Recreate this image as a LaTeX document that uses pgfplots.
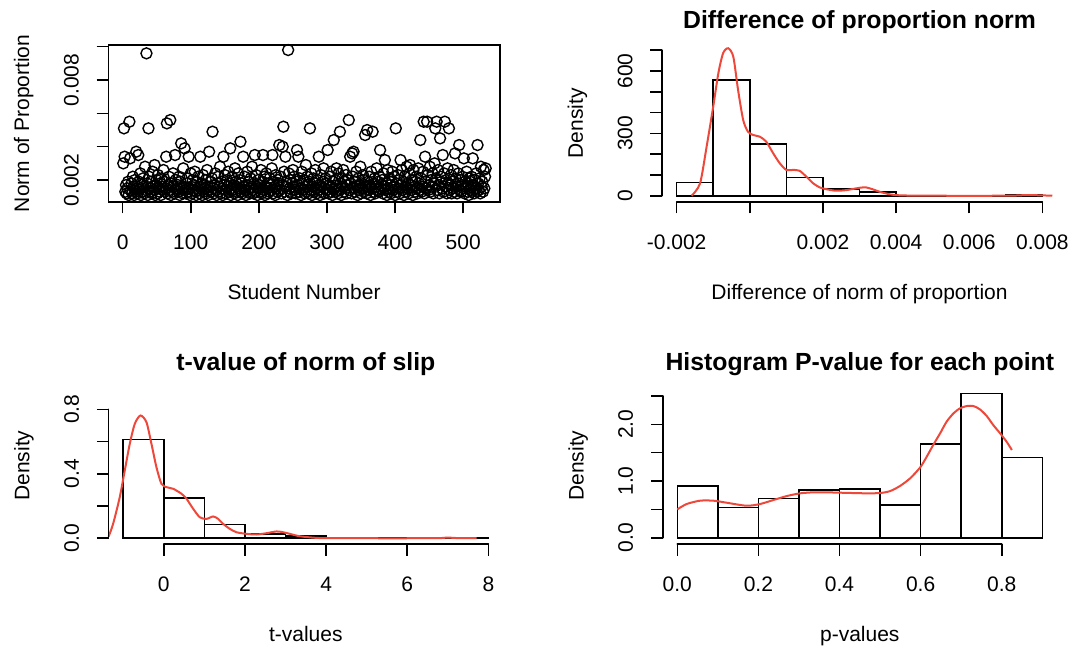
\documentclass[border=0pt]{standalone}
\usepackage{fontspec}
\setmainfont{Liberation Sans}
\usepackage{pgfplots}
\pgfplotsset{compat=1.18}
\definecolor{dens}{RGB}{238,72,58}

% R-like base style: 1 px of the reference = 0.5pt
\pgfplotsset{
  rbase/.style={
    scale only axis, height=78.35pt, anchor=south west, clip=false,
    scaled x ticks=false, scaled y ticks=false,
    xtick pos=bottom, ytick pos=left, tick align=outside, major tick length=5.85pt,
    tick style={black, line width=0.8pt},
    every tick label/.append style={inner sep=0pt, font=\fontsize{10.5}{12}\selectfont},
    xticklabel shift=10.3pt, yticklabel shift=8.7pt,
    xticklabel style={anchor=north},
    yticklabel style={rotate=90, anchor=south},
    every axis x label/.style={at={([yshift=-48.8pt]axis description cs:0.5,0)}, anchor=base, font=\fontsize{10.5}{12}\selectfont},
    every axis y label/.style={at={([xshift=-39.6pt]axis description cs:0,0.5)}, rotate=90, anchor=base, font=\fontsize{10.5}{12}\selectfont},
    every axis title/.style={at={([yshift=8.5pt]axis description cs:0.5,1)}, anchor=base, font=\bfseries\fontsize{12.4}{14}\selectfont},
  },
  rhist/.style={rbase, axis line style={draw=none}},
  histbar/.style={ybar interval, draw=black, fill=none, line width=0.8pt},
  denscurve/.style={dens, line width=1pt, smooth, tension=0.45, no marks},
}

\begin{document}
\begin{tikzpicture}
\path[use as bounding box] (0,0) rectangle (536pt,325pt);

% ---- scatter: norm of proportion per student
\begin{axis}[rbase, at={(54.15pt,224.15pt)}, width=195.85pt,
  axis line style={line width=0.8pt},
  xmin=-21, xmax=554, ymin=0.0007, ymax=0.0101,
  xtick={0,100,200,300,400,500}, xticklabels={0,100,200,300,400,500},
  ytick={0.002,0.004,0.006,0.008,0.010}, yticklabels={0.002,{},{},0.008,{}},
  xlabel={Student Number}, ylabel={Norm of Proportion}]
\addplot[only marks, mark=o, mark size=2.75pt, mark options={black, line width=0.7pt}] coordinates {
(1,0.0030)(2,0.0051)(3,0.0034)(4,0.0013)(5,0.0017)(6,0.0012)(7,0.0015)(8,0.0019)(9,0.0011)(10,0.0055)
(11,0.0033)(12,0.0014)(13,0.0018)(14,0.0012)(15,0.0022)(16,0.0016)(17,0.0011)(18,0.0020)(19,0.0013)(20,0.0037)
(21,0.0015)(22,0.0012)(23,0.0035)(24,0.0019)(25,0.0014)(26,0.0024)(27,0.0011)(28,0.0017)(29,0.0013)(30,0.0021)
(31,0.0016)(32,0.0012)(33,0.0028)(34,0.0014)(35,0.0096)(36,0.0018)(37,0.0011)(38,0.0051)(39,0.0022)(40,0.0015)
(41,0.0013)(42,0.0019)(43,0.0012)(44,0.0025)(45,0.0016)(46,0.0014)(47,0.0029)(48,0.0011)(49,0.0017)(50,0.0020)
(51,0.0012)(52,0.0023)(53,0.0015)(54,0.0013)(55,0.0018)(56,0.0011)(57,0.0021)(58,0.0016)(59,0.0014)(60,0.0026)
(61,0.0019)(62,0.0013)(63,0.0015)(64,0.0034)(65,0.0054)(66,0.0012)(67,0.0017)(68,0.0022)(69,0.0014)(70,0.0056)
(71,0.0011)(72,0.0018)(73,0.0013)(74,0.0024)(75,0.0016)(76,0.0012)(77,0.0035)(78,0.0020)(79,0.0014)(80,0.0015)
(81,0.0017)(82,0.0013)(83,0.0022)(84,0.0011)(85,0.0019)(86,0.0042)(87,0.0015)(88,0.0012)(89,0.0027)(90,0.0016)
(91,0.0039)(92,0.0014)(93,0.0012)(94,0.0018)(95,0.0021)(96,0.0013)(97,0.0034)(98,0.0015)(99,0.0011)(100,0.0024)
(101,0.0016)(102,0.0012)(103,0.0020)(104,0.0014)(105,0.0017)(106,0.0025)(107,0.0013)(108,0.0011)(109,0.0019)(110,0.0015)
(111,0.0022)(112,0.0014)(113,0.0012)(114,0.0034)(115,0.0016)(116,0.0018)(117,0.0011)(118,0.0023)(119,0.0013)(120,0.0017)
(121,0.0015)(122,0.0020)(123,0.0012)(124,0.0026)(125,0.0014)(126,0.0011)(127,0.0037)(128,0.0016)(129,0.0019)(130,0.0013)
(131,0.0021)(132,0.0049)(133,0.0015)(134,0.0012)(135,0.0017)(136,0.0024)(137,0.0014)(138,0.0011)(139,0.0018)(140,0.0022)
(141,0.0013)(142,0.0016)(143,0.0028)(144,0.0012)(145,0.0019)(146,0.0015)(147,0.0011)(148,0.0034)(149,0.0017)(150,0.0023)
(151,0.0014)(152,0.0012)(153,0.0020)(154,0.0016)(155,0.0025)(156,0.0013)(157,0.0018)(158,0.0039)(159,0.0011)(160,0.0015)
(161,0.0022)(162,0.0014)(163,0.0017)(164,0.0012)(165,0.0027)(166,0.0019)(167,0.0013)(168,0.0016)(169,0.0011)(170,0.0024)
(171,0.0015)(172,0.0020)(173,0.0043)(174,0.0013)(175,0.0018)(176,0.0012)(177,0.0034)(178,0.0016)(179,0.0022)(180,0.0014)
(181,0.0011)(182,0.0017)(183,0.0025)(184,0.0013)(185,0.0019)(186,0.0015)(187,0.0012)(188,0.0021)(189,0.0016)(190,0.0028)
(191,0.0014)(192,0.0012)(193,0.0018)(194,0.0035)(195,0.0013)(196,0.0023)(197,0.0016)(198,0.0011)(199,0.0020)(200,0.0015)
(201,0.0017)(202,0.0013)(203,0.0026)(204,0.0012)(205,0.0019)(206,0.0035)(207,0.0014)(208,0.0022)(209,0.0011)(210,0.0016)
(211,0.0024)(212,0.0015)(213,0.0012)(214,0.0018)(215,0.0013)(216,0.0021)(217,0.0017)(218,0.0014)(219,0.0027)(220,0.0035)
(221,0.0012)(222,0.0019)(223,0.0016)(224,0.0011)(225,0.0023)(226,0.0015)(227,0.0013)(228,0.0020)(229,0.0018)(230,0.0041)
(231,0.0014)(232,0.0022)(233,0.0012)(234,0.0017)(235,0.0040)(236,0.0052)(237,0.0025)(238,0.0013)(239,0.0034)(240,0.0016)
(241,0.0019)(242,0.0011)(243,0.0098)(244,0.0024)(245,0.0015)(246,0.0013)(247,0.0020)(248,0.0012)(249,0.0018)(250,0.0026)
(251,0.0016)(252,0.0022)(253,0.0014)(254,0.0012)(255,0.0019)(256,0.0038)(257,0.0017)(258,0.0034)(259,0.0013)(260,0.0021)
(261,0.0015)(262,0.0011)(263,0.0025)(264,0.0018)(265,0.0014)(266,0.0020)(267,0.0012)(268,0.0016)(269,0.0029)(270,0.0013)
(271,0.0022)(272,0.0017)(273,0.0012)(274,0.0019)(275,0.0051)(276,0.0014)(277,0.0024)(278,0.0011)(279,0.0016)(280,0.0021)
(281,0.0013)(282,0.0018)(283,0.0026)(284,0.0015)(285,0.0012)(286,0.0020)(287,0.0014)(288,0.0034)(289,0.0017)(290,0.0011)
(291,0.0023)(292,0.0016)(293,0.0013)(294,0.0019)(295,0.0027)(296,0.0012)(297,0.0015)(298,0.0021)(299,0.0018)(300,0.0014)
(301,0.0038)(302,0.0012)(303,0.0017)(304,0.0022)(305,0.0013)(306,0.0025)(307,0.0016)(308,0.0011)(309,0.0019)(310,0.0044)
(311,0.0015)(312,0.0020)(313,0.0013)(314,0.0027)(315,0.0017)(316,0.0012)(317,0.0024)(318,0.0014)(319,0.0049)(320,0.0018)
(321,0.0011)(322,0.0021)(323,0.0016)(324,0.0026)(325,0.0013)(326,0.0019)(327,0.0015)(328,0.0023)(329,0.0012)(330,0.0017)
(331,0.0020)(332,0.0056)(333,0.0014)(334,0.0034)(335,0.0018)(336,0.0012)(337,0.0036)(338,0.0022)(339,0.0037)(340,0.0015)
(341,0.0013)(342,0.0019)(343,0.0025)(344,0.0016)(345,0.0011)(346,0.0021)(347,0.0014)(348,0.0017)(349,0.0028)(350,0.0012)
(351,0.0018)(352,0.0015)(353,0.0023)(354,0.0013)(355,0.0020)(356,0.0047)(357,0.0016)(358,0.0012)(359,0.0050)(360,0.0019)
(361,0.0014)(362,0.0022)(363,0.0017)(364,0.0011)(365,0.0025)(366,0.0015)(367,0.0049)(368,0.0013)(369,0.0018)(370,0.0021)
(371,0.0012)(372,0.0016)(373,0.0027)(374,0.0014)(375,0.0019)(376,0.0013)(377,0.0022)(378,0.0038)(379,0.0015)(380,0.0017)
(381,0.0020)(382,0.0012)(383,0.0024)(384,0.0016)(385,0.0032)(386,0.0014)(387,0.0018)(388,0.0011)(389,0.0026)(390,0.0015)
(391,0.0013)(392,0.0021)(393,0.0017)(394,0.0012)(395,0.0019)(396,0.0025)(397,0.0014)(398,0.0016)(399,0.0022)(400,0.0011)
(401,0.0051)(402,0.0018)(403,0.0013)(404,0.0023)(405,0.0015)(406,0.0020)(407,0.0012)(408,0.0032)(409,0.0017)(410,0.0026)
(411,0.0014)(412,0.0019)(413,0.0011)(414,0.0022)(415,0.0016)(416,0.0013)(417,0.0028)(418,0.0015)(419,0.0018)(420,0.0012)
(421,0.0024)(422,0.0029)(423,0.0017)(424,0.0014)(425,0.0020)(426,0.0011)(427,0.0026)(428,0.0016)(429,0.0013)(430,0.0019)
(431,0.0022)(432,0.0015)(433,0.0012)(434,0.0027)(435,0.0018)(436,0.0014)(437,0.0044)(438,0.0021)(439,0.0013)(440,0.0016)
(441,0.0025)(442,0.0055)(443,0.0012)(444,0.0034)(445,0.0019)(446,0.0015)(447,0.0055)(448,0.0023)(449,0.0014)(450,0.0017)
(451,0.0028)(452,0.0013)(453,0.0020)(454,0.0016)(455,0.0024)(456,0.0012)(457,0.0018)(458,0.0030)(459,0.0051)(460,0.0021)
(461,0.0055)(462,0.0014)(463,0.0026)(464,0.0017)(465,0.0012)(466,0.0045)(467,0.0022)(468,0.0019)(469,0.0015)(470,0.0035)
(471,0.0013)(472,0.0024)(473,0.0055)(474,0.0016)(475,0.0020)(476,0.0012)(477,0.0027)(478,0.0018)(479,0.0051)(480,0.0014)
(481,0.0017)(482,0.0023)(483,0.0012)(484,0.0019)(485,0.0015)(486,0.0026)(487,0.0013)(488,0.0036)(489,0.0021)(490,0.0016)
(491,0.0012)(492,0.0018)(493,0.0024)(494,0.0041)(495,0.0014)(496,0.0020)(497,0.0013)(498,0.0017)(499,0.0022)(500,0.0015)
(501,0.0033)(502,0.0012)(503,0.0019)(504,0.0016)(505,0.0025)(506,0.0013)(507,0.0018)(508,0.0011)(509,0.0021)(510,0.0014)
(511,0.0016)(512,0.0022)(513,0.0013)(514,0.0033)(515,0.0017)(516,0.0012)(517,0.0020)(518,0.0015)(519,0.0024)(520,0.0013)
(521,0.0041)(522,0.0018)(523,0.0014)(524,0.0021)(525,0.0012)(526,0.0028)(527,0.0016)(528,0.0019)(529,0.0013)(530,0.0026)
(531,0.0015)(532,0.0022)(533,0.0027)
};
\end{axis}

% ---- histogram: difference of proportion norm
\begin{axis}[rhist, at={(331pt,224.15pt)}, width=197.5pt,
  xmin=-0.0024, xmax=0.0084, ymin=-28.8, ymax=724.6,
  xtick={-0.002,0,0.002,0.004,0.006,0.008}, xticklabels={-0.002,{},0.002,0.004,0.006,0.008},
  ytick={0,100,200,300,400,500,600,700}, yticklabels={0,{},{},300,{},{},600,{}},
  title={Difference of proportion norm},
  xlabel={Difference of norm of proportion}, ylabel={Density}]
\addplot[histbar] coordinates {
(-0.002,64)(-0.001,556)(0,248)(0.001,87)(0.002,32)(0.003,19)(0.004,0)(0.005,0)(0.006,0)(0.007,2)(0.008,0)};
\addplot[denscurve] coordinates {
(-0.00159,0)(-0.00136,59)(-0.00118,236)(-0.0010,428)(-0.00086,588)(-0.00073,685)(-0.00059,709)
(-0.00045,668)(-0.00032,508)(-0.00018,364)(-0.00005,308)(0.00009,292)(0.00027,284)(0.00045,260)
(0.00064,204)(0.00082,156)(0.0010,124)(0.00118,124)(0.00136,120)(0.00155,91)(0.00173,60)(0.00191,40)
(0.0021,31)(0.00236,24)(0.00264,27)(0.0030,38)(0.00318,40)(0.00336,31)(0.00355,19)(0.00382,7)
(0.00409,2)(0.00482,0)(0.0070,0)(0.00755,3)(0.00791,2)(0.00827,0)};
\draw[line width=0.8pt, line cap=round] (axis cs:-0.002,-28.8) -- (axis cs:0.008,-28.8);
\draw[line width=0.8pt, line cap=round] (axis cs:-0.0024,0) -- (axis cs:-0.0024,700);
\end{axis}

% ---- histogram: t-values
\begin{axis}[rhist, at={(54.3pt,53pt)}, width=197.2pt,
  xmin=-1.36, xmax=8.36, ymin=-0.036, ymax=0.937,
  xtick={0,2,4,6,8}, xticklabels={0,2,4,6,8},
  ytick={0,0.2,0.4,0.6,0.8}, yticklabels={0.0,{},0.4,{},0.8},
  title={t-value of norm of slip},
  xlabel={t-values}, ylabel={Density}]
\addplot[histbar] coordinates {
(-1,0.613)(0,0.248)(1,0.085)(2,0.027)(3,0.012)(4,0)(5,0)(6,0)(7,0.002)(8,0)};
\addplot[denscurve] coordinates {
(-1.36,0.01)(-1.249,0.089)(-1.085,0.255)(-0.962,0.42)(-0.838,0.586)(-0.715,0.71)(-0.575,0.762)
(-0.427,0.72)(-0.304,0.586)(-0.181,0.441)(-0.058,0.338)(0.066,0.317)(0.23,0.307)(0.436,0.276)
(0.56,0.245)(0.723,0.183)(0.888,0.13)(1.053,0.12)(1.216,0.135)(1.34,0.12)(1.463,0.089)(1.628,0.058)
(1.792,0.037)(2.04,0.027)(2.286,0.023)(2.53,0.031)(2.78,0.042)(2.94,0.037)(3.107,0.027)(3.353,0.012)
(3.765,0.002)(4.175,0)(6.64,0)(6.97,0.004)(7.3,0)(7.71,0)};
\draw[line width=0.8pt, line cap=round] (axis cs:0,-0.036) -- (axis cs:8,-0.036);
\draw[line width=0.8pt, line cap=round] (axis cs:-1.36,0) -- (axis cs:-1.36,0.8);
\end{axis}

% ---- histogram: p-values
\begin{axis}[rhist, at={(331.35pt,53pt)}, width=197.1pt,
  xmin=-0.036, xmax=0.936, ymin=-0.111, ymax=2.653,
  xtick={0,0.2,0.4,0.6,0.8}, xticklabels={0.0,0.2,0.4,0.6,0.8},
  ytick={0,0.5,1,1.5,2,2.5}, yticklabels={0.0,{},1.0,{},2.0,{}},
  title={Histogram P-value for each point},
  xlabel={p-values}, ylabel={Density}]
\addplot[histbar] coordinates {
(0,0.912)(0.1,0.536)(0.2,0.695)(0.3,0.841)(0.4,0.859)(0.5,0.577)(0.6,1.653)(0.7,2.547)(0.8,1.418)(0.9,0)};
\addplot[denscurve] coordinates {
(0,0.5)(0.023,0.594)(0.056,0.653)(0.089,0.653)(0.122,0.617)(0.171,0.564)(0.204,0.594)(0.237,0.665)
(0.27,0.735)(0.303,0.783)(0.335,0.8)(0.368,0.8)(0.401,0.794)(0.434,0.788)(0.467,0.783)(0.5,0.788)
(0.525,0.823)(0.549,0.912)(0.574,1.047)(0.599,1.241)(0.615,1.429)(0.631,1.635)(0.648,1.841)(0.664,2.046)
(0.681,2.194)(0.697,2.282)(0.714,2.323)(0.73,2.323)(0.746,2.265)(0.763,2.146)(0.779,1.988)(0.796,1.841)
(0.812,1.693)(0.825,1.547)};
\draw[line width=0.8pt, line cap=round] (axis cs:0,-0.111) -- (axis cs:0.8,-0.111);
\draw[line width=0.8pt, line cap=round] (axis cs:-0.036,0) -- (axis cs:-0.036,2.5);
\end{axis}
\end{tikzpicture}
\end{document}
